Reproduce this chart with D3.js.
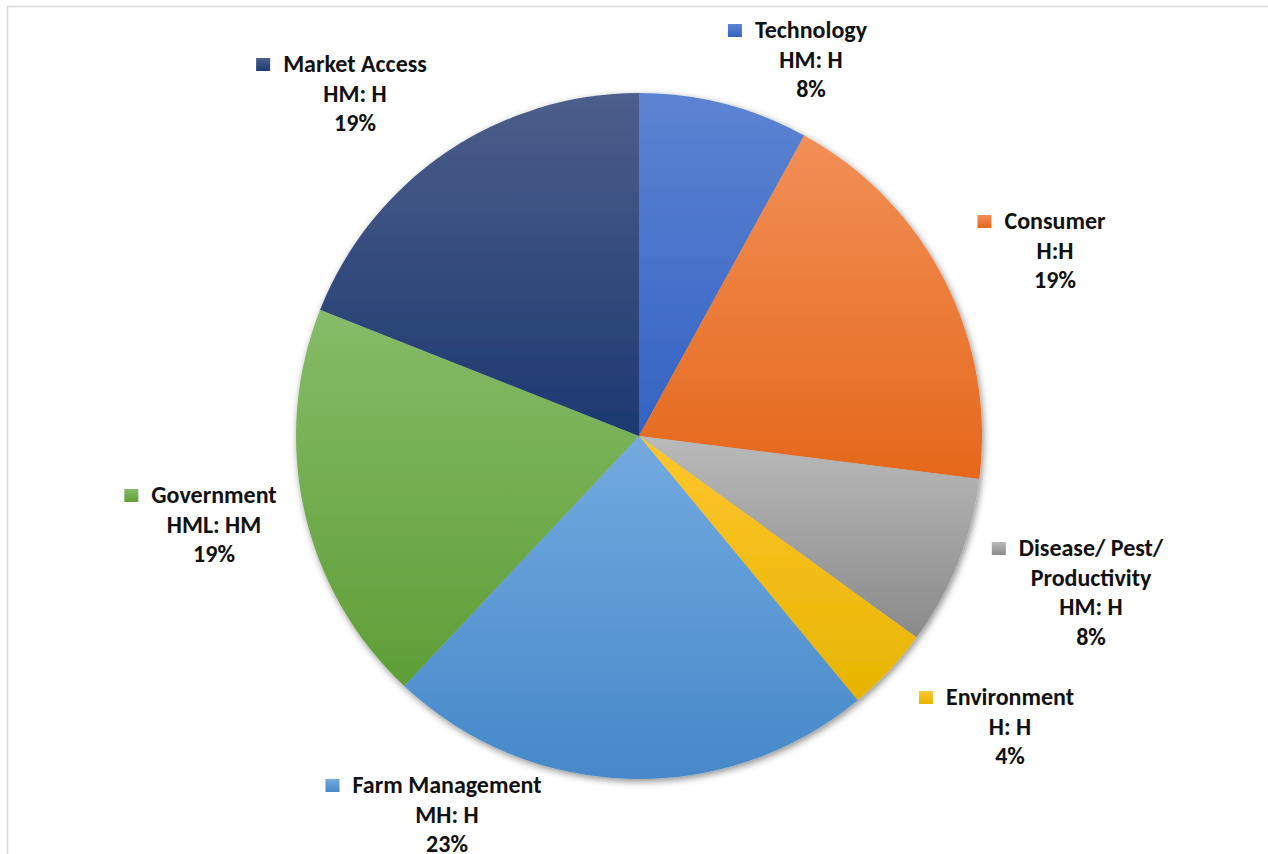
<!DOCTYPE html>
<html>
<head>
<meta charset="utf-8">
<script src="https://cdn.jsdelivr.net/npm/d3@7"></script>
<style>
  html, body { margin: 0; padding: 0; background: #fff; }
  svg { display: block; }
  text { font-family: Calibri, Carlito, Lato, "Open Sans", sans-serif; font-weight: 700; fill: #111; }
</style>
</head>
<body>
<svg id="chart" width="1268" height="854"></svg>
<script>
// Share of issues by category, with the impact rating shown under each name
const categories = ["Technology", "Consumer", "Disease/ Pest/ Productivity", "Environment", "Farm Management", "Government", "Market Access"];
const values = [8, 19, 8, 4, 23, 19, 19];
const ratings = ["HM: H", "H:H", "HM: H", "H: H", "MH: H", "HML: HM", "HM: H"];
const nameLines = [["Technology"], ["Consumer"], ["Disease/ Pest/", "Productivity"], ["Environment"], ["Farm Management"], ["Government"], ["Market Access"]];
const percentLabels = ["8%", "19%", "8%", "4%", "23%", "19%", "19%"];

// Light-to-dark gradient per slice (top colour, bottom colour)
const colorsTop = ["#5d83d3", "#f28f57", "#bababa", "#ffc62e", "#73aae0", "#85bc68", "#4d5e8b"];
const colorsBottom = ["#3363c2", "#e5681b", "#8a8a8a", "#e6b400", "#4688c9", "#5f9e36", "#1c3970"];

// Label anchor (centre x of the text block, baseline of first line)
const labelX = [811, 1055, 1091, 1010, 447, 214, 355];
const labelY = [38, 229, 556, 705, 793, 503, 72];

const svg = d3.select("#chart");
const W = 1268, H = 854;
const cx = 639, cy = 436, radius = 343;

// chart frame
svg.append("rect")
  .attr("x", 7.5).attr("y", 6.5)
  .attr("width", W + 20).attr("height", H + 20)
  .attr("fill", "#fff")
  .attr("stroke", "#d9d9d9")
  .attr("stroke-width", 1.5);

const defs = svg.append("defs");

const shadow = defs.append("filter").attr("id", "pieShadow")
  .attr("x", "-10%").attr("y", "-10%").attr("width", "120%").attr("height", "120%");
shadow.append("feDropShadow")
  .attr("dx", 1.5).attr("dy", 2.5)
  .attr("stdDeviation", 3.5)
  .attr("flood-color", "#000")
  .attr("flood-opacity", 0.45);

categories.forEach((c, i) => {
  const g = defs.append("linearGradient")
    .attr("id", "grad" + i)
    .attr("x1", 0).attr("y1", 0).attr("x2", 0).attr("y2", 1);
  g.append("stop").attr("offset", "0%").attr("stop-color", colorsTop[i]);
  g.append("stop").attr("offset", "100%").attr("stop-color", colorsBottom[i]);

  const k = defs.append("linearGradient")
    .attr("id", "key" + i)
    .attr("x1", 0).attr("y1", 0).attr("x2", 0).attr("y2", 1);
  k.append("stop").attr("offset", "0%").attr("stop-color", colorsTop[i]);
  k.append("stop").attr("offset", "100%").attr("stop-color", colorsBottom[i]);
});

const pie = d3.pie().sort(null).value(d => d.value);
const arc = d3.arc().innerRadius(0).outerRadius(radius);

const data = categories.map((c, i) => ({ name: c, value: values[i], i }));

const pieG = svg.append("g")
  .attr("transform", `translate(${cx},${cy})`)
  .attr("filter", "url(#pieShadow)");

pieG.selectAll("path")
  .data(pie(data))
  .join("path")
  .attr("d", arc)
  .attr("fill", d => `url(#grad${d.data.i})`);

// Data labels: legend key, category name, rating and percentage
const lineH = 29.5;
const fontSize = 24;

data.forEach((d, i) => {
  const lines = nameLines[i].concat([ratings[i], percentLabels[i]]);
  const g = svg.append("g");
  const t = g.append("text")
    .attr("text-anchor", "middle")
    .attr("font-size", fontSize);
  lines.forEach((ln, j) => {
    t.append("tspan")
      .attr("x", labelX[i])
      .attr("y", labelY[i] + j * lineH)
      .text(ln);
  });
  // key square placed before the first line
  const first = t.select("tspan").node();
  const w = first.getComputedTextLength();
  const left = labelX[i] - w / 2;
  g.append("rect")
    .attr("x", left - 27).attr("y", labelY[i] - 14)
    .attr("width", 14).attr("height", 13)
    .attr("fill", `url(#key${i})`);
});
</script>
</body>
</html>
